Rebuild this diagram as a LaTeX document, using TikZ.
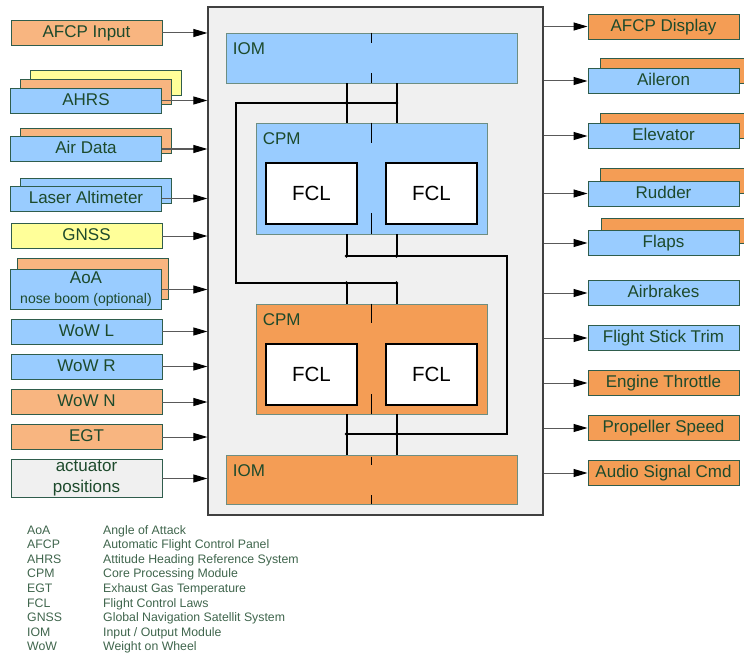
\documentclass[tikz,border=0pt]{standalone}
\usepackage{fontspec}
\setmainfont{Liberation Sans}
\usepackage{xcolor}
\usetikzlibrary{positioning, arrows.meta, calc}

\definecolor{peach}{HTML}{F8B580}
\definecolor{orangebox}{HTML}{F49D55}
\definecolor{skyblue}{HTML}{99CCFF}
\definecolor{paleyellow}{HTML}{FFFF99}
\definecolor{panelgrey}{HTML}{F0F0F0}
\definecolor{boxline}{HTML}{2F5D4C}
\definecolor{labelgreen}{HTML}{1D4A2C}

\tikzset{
    sigbox/.style={draw=boxline, line width=0.9pt, minimum width=151pt, minimum height=25pt,
        inner sep=0pt, text height=12.2pt, text depth=3pt,
        font=\fontsize{17}{19}\selectfont, text=labelgreen},
    twoline/.style={text height={}, text depth={}, align=center},
    module/.style={draw=boxline!70, line width=0.8pt, inner sep=0pt},
    fclbox/.style={draw=black, fill=white, line width=2pt, minimum width=91pt, minimum height=61pt,
        inner sep=0pt, font=\fontsize{20.5}{22}\selectfont},
    modlabel/.style={anchor=north west, inner sep=0pt, font=\fontsize{17}{19}\selectfont, text=labelgreen},
    sig/.style={draw=black!65, line width=1pt, -{Triangle[length=14pt,width=8pt,black]}},
    bus/.style={line width=2pt, black},
    divider/.style={line width=0.8pt, black},
    abbr/.style={anchor=base west, inner sep=0pt, font=\fontsize{12.3}{14}\selectfont, text=labelgreen!85}
}

\begin{document}
\begin{tikzpicture}[x=1pt, y=-1pt]
    \useasboundingbox (0,0) rectangle (744,658);

    % central computer
    \node[draw=black!75, line width=1.2pt, fill=panelgrey, minimum width=335pt, minimum height=508pt,
        inner sep=0pt] (core) at (375.5,261) {};

    \node[module, fill=skyblue, minimum width=291pt, minimum height=50pt] (iom1) at (371.5,58) {};
    \node[module, fill=skyblue, minimum width=231pt, minimum height=111pt] (cpm1) at (371.5,178.5) {};
    \node[module, fill=orangebox, minimum width=231pt, minimum height=110pt] (cpm2) at (371.5,359) {};
    \node[module, fill=orangebox, minimum width=291pt, minimum height=49pt] (iom2) at (371.5,479.5) {};

    \node[modlabel] (iom1-t) at ([shift={(7,10)}]iom1.north west) {IOM};
    \node[modlabel] (cpm1-t) at ([shift={(7,10)}]cpm1.north west) {CPM};
    \node[modlabel] (cpm2-t) at ([shift={(7,10)}]cpm2.north west) {CPM};
    \node[modlabel] (iom2-t) at ([shift={(7,10)}]iom2.north west) {IOM};

    % lane split marks
    \draw[divider] (iom1.north) -- ++(0,10);
    \draw[divider] (iom1.south) -- ++(0,-10);
    \draw[divider] (cpm1.north) -- ++(0,20);
    \draw[divider] (cpm1.south) -- ++(0,-21);
    \draw[divider] (cpm2.north) -- ++(0,19);
    \draw[divider] (cpm2.south) -- ++(0,-20);
    \draw[divider] (iom2.north) ++(0,2) -- ++(0,8);
    \draw[divider] (iom2.south) -- ++(0,-9);

    \node[fclbox] (fcl1a) at (311.5,193.5) {FCL};
    \node[fclbox] (fcl1b) at (431.5,193.5) {FCL};
    \node[fclbox] (fcl2a) at (311.5,374) {FCL};
    \node[fclbox] (fcl2b) at (431.5,374) {FCL};

    % cross-channel bus
    \coordinate (laneL) at (346.5,0);
    \coordinate (laneR) at (396.5,0);
    \coordinate (loopA) at (236,103);
    \coordinate (loopB) at (236,283);
    \coordinate (loopC) at (507,256);
    \coordinate (loopD) at (507,434);

    \draw[bus] (laneL |- iom1.south) -- (laneL |- cpm1.north);
    \draw[bus] (laneR |- iom1.south) -- (laneR |- cpm1.north);
    \draw[bus] (laneL |- cpm1.south) -- (laneL |- loopC);
    \draw[bus] (laneR |- cpm1.south) -- (laneR |- loopC);
    \draw[bus] (laneL |- loopB) -- (laneL |- cpm2.north);
    \draw[bus] (laneR |- loopB) -- (laneR |- cpm2.north);
    \draw[bus] (laneL |- cpm2.south) -- (laneL |- iom2.north);
    \draw[bus] (laneR |- cpm2.south) -- (laneR |- iom2.north);
    \draw[bus] (laneR |- loopA) -- (loopA) -- (loopB) -- (laneR |- loopB);
    \draw[bus] (laneL |- loopC) -- (loopC) -- (loopD) -- (laneL |- loopD);
    \foreach \j in {loopA, loopB, loopC, loopD}
        \fill (laneL |- \j) circle (1.8pt) (laneR |- \j) circle (1.8pt);

    % inputs
    \node[sigbox, fill=peach] (afcpin) at (86.5,33) {AFCP Input};
    \node[sigbox, fill=paleyellow] (ahrs3) at (106,83) {};
    \node[sigbox, fill=peach] (ahrs2) at (96,92) {};
    \node[sigbox, fill=skyblue] (ahrs) at (86,100.5) {AHRS};
    \node[sigbox, fill=peach] (airdata2) at (96,141) {};
    \node[sigbox, fill=skyblue] (airdata) at (86,149) {Air Data};
    \node[sigbox, fill=skyblue] (laser2) at (96,190.5) {};
    \node[sigbox, fill=skyblue] (laser) at (86,198.5) {Laser Altimeter};
    \node[sigbox, fill=paleyellow] (gnss) at (86.5,236) {GNSS};
    \node[sigbox, fill=peach, minimum height=41pt] (aoa2) at (93,279) {};
    \node[sigbox, twoline, fill=skyblue, minimum height=40pt] (aoa) at (86,289.5)
        {AoA\\[1pt]{\fontsize{14}{16}\selectfont nose boom (optional)}};
    \node[sigbox, fill=skyblue] (wowl) at (86.5,331.5) {WoW L};
    \node[sigbox, fill=skyblue] (wowr) at (86.5,366.5) {WoW R};
    \node[sigbox, fill=peach] (wown) at (86.5,402) {WoW N};
    \node[sigbox, fill=peach] (egt) at (86.5,437) {EGT};
    \node[sigbox, twoline, fill=panelgrey, minimum height=38pt] (actpos) at (86.5,478.5)
        {actuator\\[2pt]positions};

    \foreach \src in {afcpin, ahrs, airdata, laser, gnss, aoa, wowl, wowr, wown, egt, actpos}
        \draw[sig] (\src.east) -- (\src.east -| core.west);

    % outputs
    \node[sigbox, fill=orangebox] (afcpout) at (663.5,26.5) {AFCP Display};
    \node[sigbox, fill=orangebox] (aileron2) at (675.5,71) {};
    \node[sigbox, fill=skyblue] (aileron) at (663.5,81) {Aileron};
    \node[sigbox, fill=orangebox] (elevator2) at (675.5,126) {};
    \node[sigbox, fill=skyblue] (elevator) at (663.5,136) {Elevator};
    \node[sigbox, fill=orangebox] (rudder2) at (675.5,181) {};
    \node[sigbox, fill=skyblue] (rudder) at (663.5,193.5) {Rudder};
    \node[sigbox, fill=orangebox] (flaps2) at (676.5,231) {};
    \node[sigbox, fill=skyblue] (flaps) at (663.5,243) {Flaps};
    \node[sigbox, fill=skyblue] (airbrakes) at (663.5,293) {Airbrakes};
    \node[sigbox, fill=skyblue] (sticktrim) at (663.5,338) {Flight Stick Trim};
    \node[sigbox, fill=orangebox] (throttle) at (663.5,383) {Engine Throttle};
    \node[sigbox, fill=orangebox] (propspeed) at (663.5,428) {Propeller Speed};
    \node[sigbox, fill=orangebox] (audio) at (663.5,473) {Audio Signal Cmd};

    \foreach \dst in {afcpout, aileron, elevator, rudder, flaps, airbrakes, sticktrim, throttle, propspeed, audio}
        \draw[sig] (core.east |- \dst.west) -- (\dst.west);

    % abbreviations
    \node[abbr] (ab1) at (27,534) {AoA};
    \node[abbr] (de1) at (103,534) {Angle of Attack};
    \node[abbr] (ab2) at (27,548.6) {AFCP};
    \node[abbr] (de2) at (103,548.6) {Automatic Flight Control Panel};
    \node[abbr] (ab3) at (27,563.2) {AHRS};
    \node[abbr] (de3) at (103,563.2) {Attitude Heading Reference System};
    \node[abbr] (ab4) at (27,577.8) {CPM};
    \node[abbr] (de4) at (103,577.8) {Core Processing Module};
    \node[abbr] (ab5) at (27,592.4) {EGT};
    \node[abbr] (de5) at (103,592.4) {Exhaust Gas Temperature};
    \node[abbr] (ab6) at (27,607) {FCL};
    \node[abbr] (de6) at (103,607) {Flight Control Laws};
    \node[abbr] (ab7) at (27,621.6) {GNSS};
    \node[abbr] (de7) at (103,621.6) {Global Navigation Satellit System};
    \node[abbr] (ab8) at (27,636.2) {IOM};
    \node[abbr] (de8) at (103,636.2) {Input / Output Module};
    \node[abbr] (ab9) at (27,650.8) {WoW};
    \node[abbr] (de9) at (103,650.8) {Weight on Wheel};
\end{tikzpicture}
\end{document}
